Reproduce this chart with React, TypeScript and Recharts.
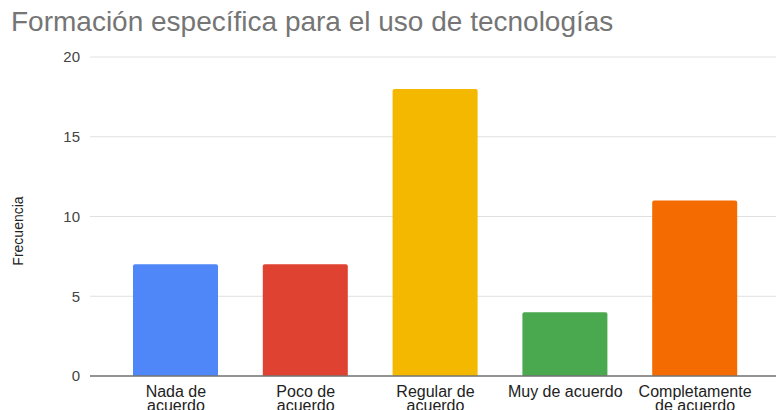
import React from 'react'
import { BarChart, Bar, XAxis, YAxis, CartesianGrid, Cell, Label } from 'recharts'

// Values
const categories = [
  'Nada de\nacuerdo',
  'Poco de\nacuerdo',
  'Regular de\nacuerdo',
  'Muy de acuerdo',
  'Completamente\nde acuerdo',
]
const frecuencias = [7, 7, 18, 4, 11]
const barColors = ['#4f87f8', '#e04231', '#f4b800', '#4aa84e', '#f46b01']
const yTicks = [0, 5, 10, 15, 20]

const data = categories.map((name, i) => ({ name, value: frecuencias[i] }))

const FONT = '"Liberation Sans", Arial, sans-serif'

function CategoryTick({ x, y, payload }: any) {
  const lines = String(payload.value).split('\n')
  return (
    <text x={x} y={y} textAnchor="middle" fontSize={16} fill="#222" fontFamily={FONT}>
      {lines.map((line, i) => (
        <tspan key={i} x={x} dy={i === 0 ? 12.5 : 14.5}>
          {line}
        </tspan>
      ))}
    </text>
  )
}

export default function App() {
  return (
    <div style={{ position: 'absolute', left: 0, top: 0, width: 776, height: 410, background: '#fff', overflow: 'hidden' }}>
      <div
        style={{
          position: 'absolute',
          left: 11,
          top: 8,
          fontFamily: FONT,
          fontSize: 28,
          lineHeight: '28px',
          color: '#757575',
          whiteSpace: 'nowrap',
        }}
      >
        Formación específica para el uso de tecnologías
      </div>
      <BarChart
        width={776}
        height={410}
        data={data}
        margin={{ top: 57, right: 0, bottom: 0, left: 0 }}
        barSize={85}
      >
        <CartesianGrid vertical={false} stroke="#e0e0e0" />
        <XAxis
          dataKey="name"
          height={34}
          interval={0}
          padding={{ left: 21, right: 16 }}
          tickLine={false}
          axisLine={{ stroke: '#757575', strokeWidth: 1.5 }}
          tick={<CategoryTick />}
        />
        <YAxis
          width={90}
          domain={[0, 20]}
          ticks={yTicks}
          tickLine={false}
          axisLine={false}
          tickMargin={4}
          tick={{ fontSize: 15, fill: '#444', fontFamily: FONT }}
        >
          <Label
            content={() => (
              <text
                x={18}
                y={231}
                transform="rotate(-90 18 231)"
                textAnchor="middle"
                dominantBaseline="central"
                fontSize={14}
                fill="#222"
                fontFamily={FONT}
              >
                Frecuencia
              </text>
            )}
          />
        </YAxis>
        <Bar dataKey="value" radius={[2, 2, 0, 0]} isAnimationActive={false}>
          {data.map((d, i) => (
            <Cell key={d.name} fill={barColors[i]} />
          ))}
        </Bar>
      </BarChart>
    </div>
  )
}
